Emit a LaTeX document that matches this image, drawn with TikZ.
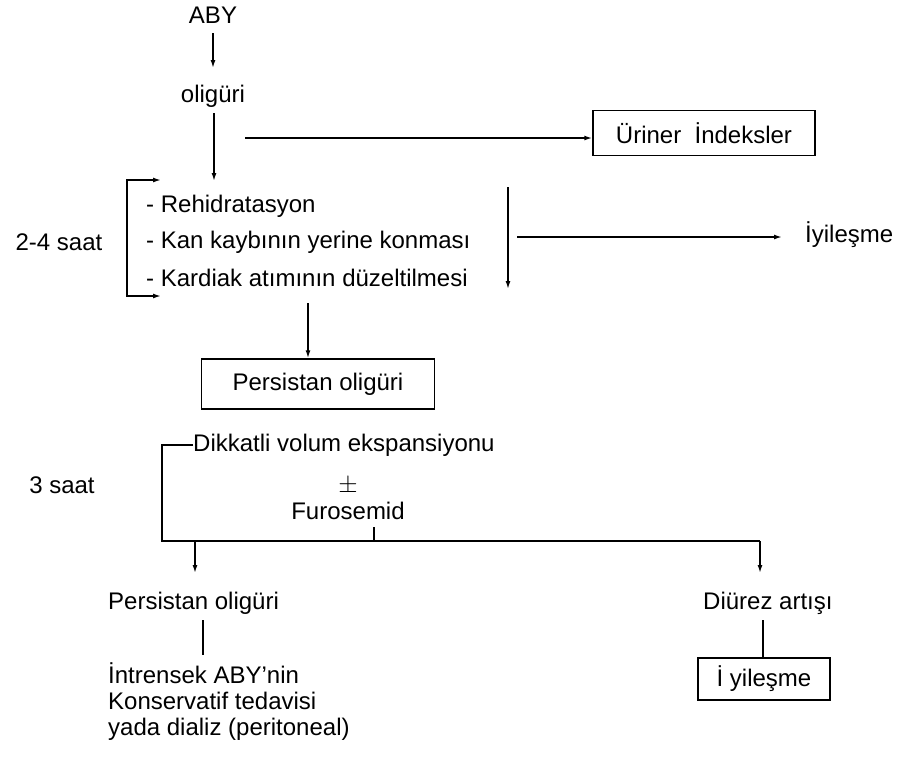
\documentclass[tikz,border=0pt]{standalone}
\usepackage{fontspec}
\setmainfont{Liberation Sans}
\usetikzlibrary{arrows.meta}
\begin{document}
\begin{tikzpicture}[x=1pt,y=-1pt]
\tikzset{
 lbl/.style={font=\fontsize{24}{28}\selectfont, inner sep=0pt},
 boxed/.style={lbl, draw, line width=1.5pt},
 ln/.style={line width=1.5pt},
 arr/.style={ln, -{Latex[length=8pt,width=5pt]}},
 darr/.style={ln, {Latex[length=8pt,width=5pt]}-{Latex[length=8pt,width=5pt]}},
}
\useasboundingbox (0,0) rectangle (903,756);

% top
\node[lbl] (aby) at (213,15) {ABY};
\node[lbl] (olig) at (213,96) {oligüri};
\coordinate (a1s) at (213,33);
\coordinate (a1e) at (213,68);
\draw[arr] (a1s) -- (a1e);
\coordinate (a2s) at (214,113);
\coordinate (a2e) at (214,181);
\draw[arr] (a2s) -- (a2e);

\node[boxed, minimum width=222pt, minimum height=45pt] (urin) at (704,133) {Üriner\ \ İndeksler};
\coordinate (h0) at (245,138);
\draw[arr] (h0) -- (h0 -| urin.west);

% list
\node[lbl, anchor=west] (r1) at (146,206) {- Rehidratasyon};
\node[lbl, anchor=west] (r2) at (146,242) {- Kan kaybının yerine konması};
\node[lbl, anchor=west] (r3) at (146,278) {- Kardiak atımının düzeltilmesi};
\node[lbl] (t24) at (59,242) {2-4 saat};

\coordinate (b1t) at (161,180);
\coordinate (b1b) at (161,296);
\draw[darr] (b1t) -- ++(-34,0) -- ++(0,116) -- (b1b);

\coordinate (v1) at (508,187);
\coordinate (v2) at (508,289);
\draw[arr] (v1) -- (v2);
\node[lbl, anchor=west] (iyi) at (805,235) {İyileşme};
\coordinate (h1) at (517,237);
\coordinate (h1e) at (782,237);
\draw[arr] (h1) -- (h1e);

% persistan
\node[boxed, minimum width=233pt, minimum height=50pt] (pers) at (318,384) {Persistan oligüri};
\coordinate (d0) at (308,303);
\draw[arr] (d0) -- (d0 |- pers.north);

% second stage
\node[lbl, anchor=west] (dik) at (193,445) {Dikkatli volum ekspansiyonu};
\node[lbl] (pm) at (348,486) {$\pm$};
\node[lbl] (furo) at (348,511) {Furosemid};
\node[lbl] (t3) at (62,485) {3 saat};
\coordinate (bl) at (162,541);
\coordinate (br) at (760,541);
\draw[ln] (dik.west) -| (bl) -- (br);
\coordinate (tk) at (374,527);
\draw[ln] (tk) -- (tk |- bl);

% outcomes
\node[lbl, anchor=west] (pers2) at (108,603) {Persistan oligüri};
\node[lbl, anchor=west] (diu) at (703,603) {Diürez artışı};
\coordinate (dl) at (195,541);
\coordinate (dr) at (760,541);
\draw[arr] (dl) -- (dl |- 0,573);
\draw[arr] (dr) -- (dr |- 0,573);

\node[lbl, anchor=west] (in1) at (108,673) {İntrensek ABY'nin};
\node[lbl, anchor=west] (in2) at (108,701) {Konservatif tedavisi};
\node[lbl, anchor=west] (in3) at (108,729) {yada dializ (peritoneal)};
\coordinate (vl) at (203,620);
\draw[ln] (vl) -- (vl |- 0,655);

\node[boxed, minimum width=132pt, minimum height=42pt] (iy2) at (764,679) {İ yileşme};
\coordinate (vr) at (763,620);
\draw[ln] (vr) -- (vr |- iy2.north);
\end{tikzpicture}
\end{document}
